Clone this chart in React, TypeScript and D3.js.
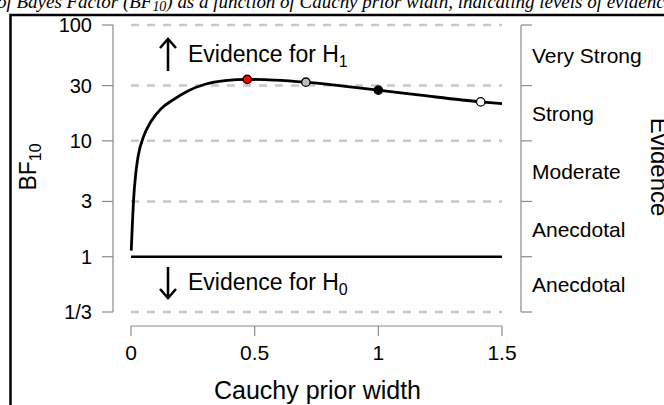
import React from 'react';
import * as d3 from 'd3';

// prior width (r) and BF10
const priorWidths = [0.001, 0.005, 0.01, 0.02, 0.03, 0.05, 0.08, 0.12, 0.17, 0.23, 0.3, 0.38, 0.47, 0.58, 0.707, 0.85, 1.0, 1.17, 1.414, 1.5];
const bfValues = [1.13, 1.8, 3.0, 5.4, 7.6, 10.8, 14.6, 18.8, 22.6, 27.0, 30.8, 33.1, 33.9, 33.5, 32.1, 29.8, 27.4, 24.8, 21.7, 21.0];

// highlighted priors: max BF, wide, ultrawide, sqrt(2)
const markerWidths = [0.47, 0.707, 1.0, 1.414];
const markerBF = [33.9, 32.1, 27.4, 21.7];
const markerFills = ['#ff0000', '#bebebe', '#000000', '#ffffff'];

const xTicks = [0, 0.5, 1, 1.5];
const xTickLabels = ['0', '0.5', '1', '1.5'];
const yTicks = [1 / 3, 1, 3, 10, 30, 100];
const yTickLabels = ['1/3', '1', '3', '10', '30', '100'];
const dashedLevels = [1 / 3, 3, 10, 30, 100];
const evidenceLabels = ['Anecdotal', 'Anecdotal', 'Moderate', 'Strong', 'Very Strong'];

const W = 664;
const H = 405;
const sans = "'Liberation Sans', Arial, sans-serif";
const axisCol = '#8a8a8a';

const App = () => {
  const x = d3.scaleLinear().domain([0, 1.5]).range([131, 502]);
  const y = d3.scaleLog().domain([1 / 3, 100]).range([312, 25]);

  const pts = priorWidths.map((r, i) => [r, bfValues[i]] as [number, number]);
  const line = d3
    .line<[number, number]>()
    .x((d) => x(d[0]))
    .y((d) => y(d[1]))
    .curve(d3.curveMonotoneX);

  const leftX = 113;
  const rightX = 521;
  const xAxisY = 326;

  return (
    <svg
      width={W}
      height={H}
      style={{ position: 'absolute', left: 0, top: 0, background: '#fff' }}
    >
      {/* title, clipped at the top like the original */}
      <text
        x={-3}
        y={8}
        fontFamily="'Liberation Serif', serif"
        fontStyle="italic"
        fontSize={19}
        textLength={676}
        lengthAdjust="spacing"
      >
        of Bayes Factor (BF<tspan fontSize={14} dy={3}>10</tspan>
        <tspan dy={-3}>) as a function of Cauchy prior width, indicating levels of evidence</tspan>
      </text>

      {/* frame */}
      <rect x={10.5} y={15} width={W + 20} height={H + 20} fill="none" stroke="#000" strokeWidth={2.5} />

      {/* dashed reference levels */}
      {dashedLevels.map((v) => (
        <line
          key={v}
          x1={x(0)}
          x2={x(1.5)}
          y1={y(v)}
          y2={y(v)}
          stroke="#c8c8c8"
          strokeWidth={2.5}
          strokeDasharray="8 8"
        />
      ))}
      <line x1={x(0)} x2={x(1.5)} y1={y(1)} y2={y(1)} stroke="#000" strokeWidth={2.5} />

      {/* left axis */}
      <line x1={leftX} x2={leftX} y1={y(1 / 3)} y2={y(100)} stroke={axisCol} strokeWidth={1.2} />
      {yTicks.map((v, i) => (
        <g key={i}>
          <line x1={leftX - 11} x2={leftX} y1={y(v)} y2={y(v)} stroke={axisCol} strokeWidth={1.2} />
          <text x={92} y={y(v) + 7} textAnchor="end" fontFamily={sans} fontSize={20}>
            {yTickLabels[i]}
          </text>
        </g>
      ))}

      {/* right evidence axis */}
      <line x1={rightX} x2={rightX} y1={y(1 / 3)} y2={y(100)} stroke={axisCol} strokeWidth={1.2} />
      {yTicks.map((v, i) => (
        <line key={i} x1={rightX} x2={rightX + 11} y1={y(v)} y2={y(v)} stroke={axisCol} strokeWidth={1.2} />
      ))}
      {evidenceLabels.map((lab, i) => {
        const mid = Math.sqrt(yTicks[i] * yTicks[i + 1]);
        return (
          <text key={i} x={532} y={y(mid) + 7.5} fontFamily={sans} fontSize={21}>
            {lab}
          </text>
        );
      })}
      <text
        transform={`translate(651,167) rotate(90)`}
        textAnchor="middle"
        fontFamily={sans}
        fontSize={24}
      >
        Evidence
      </text>

      {/* bottom axis */}
      <line x1={x(0)} x2={x(1.5)} y1={xAxisY} y2={xAxisY} stroke={axisCol} strokeWidth={1.2} />
      {xTicks.map((v, i) => (
        <g key={i}>
          <line x1={x(v)} x2={x(v)} y1={xAxisY} y2={xAxisY + 10} stroke={axisCol} strokeWidth={1.2} />
          <text x={x(v)} y={360} textAnchor="middle" fontFamily={sans} fontSize={21}>
            {xTickLabels[i]}
          </text>
        </g>
      ))}
      <text x={(x(0) + x(1.5)) / 2 + 1} y={399} textAnchor="middle" fontFamily={sans} fontSize={25}>
        Cauchy prior width
      </text>

      {/* y label */}
      <text transform={`translate(36,167) rotate(-90)`} textAnchor="middle" fontFamily={sans} fontSize={23}>
        BF<tspan fontSize={16} dy={5}>10</tspan>
      </text>

      {/* evidence arrows */}
      <path d="M168,71 L168,39 M160,48 L168,39 L176,48" fill="none" stroke="#000" strokeWidth={2.5} />
      <text x={188} y={62} fontFamily={sans} fontSize={23}>
        Evidence for H<tspan fontSize={16} dy={5}>1</tspan>
      </text>
      <path d="M168,267 L168,298 M160,289 L168,298 L176,289" fill="none" stroke="#000" strokeWidth={2.5} />
      <text x={188} y={290} fontFamily={sans} fontSize={23}>
        Evidence for H<tspan fontSize={16} dy={5}>0</tspan>
      </text>

      {/* robustness curve */}
      <path d={line(pts) ?? ''} fill="none" stroke="#000" strokeWidth={2.8} />
      {markerWidths.map((r, i) => (
        <circle key={i} cx={x(r)} cy={y(markerBF[i])} r={4.2} fill={markerFills[i]} stroke="#000" strokeWidth={1.3} />
      ))}
    </svg>
  );
};

export default App;
